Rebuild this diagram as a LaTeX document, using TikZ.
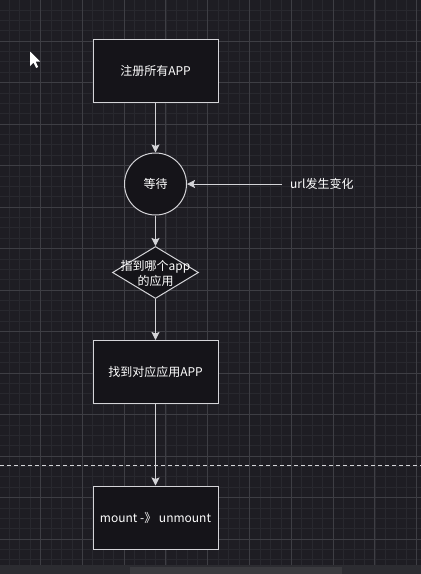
\documentclass[tikz,border=0pt]{standalone}
\usepackage{fontspec}
\setmainfont{Noto Sans CJK SC}
\usetikzlibrary{arrows.meta,positioning}
\usetikzlibrary{shapes.geometric}

\definecolor{canvasbg}{RGB}{30,29,35}
\definecolor{gridmajor}{RGB}{62,62,68}
\definecolor{gridminor}{RGB}{40,40,46}
\definecolor{boxfill}{RGB}{21,20,25}
\definecolor{edge}{RGB}{212,212,216}
\definecolor{barbg}{RGB}{44,44,49}
\definecolor{barthumb}{RGB}{58,58,62}

\begin{document}
\begin{tikzpicture}[
    x=1pt, y=-1pt,
    font=\fontsize{12}{15}\selectfont,
    >={Stealth[length=8pt, width=8pt, inset=1.5pt]},
    % styles
    block/.style={draw=edge, line width=1pt, rectangle, minimum width=125pt, minimum height=63pt, align=center, fill=boxfill, text=white},
    waitnode/.style={draw=edge, line width=1pt, circle, minimum size=62pt, fill=boxfill, text=white},
    choice/.style={draw=edge, line width=1pt, diamond, minimum width=86pt, minimum height=52pt, inner sep=0pt, fill=boxfill},
    line/.style={draw=edge, ->, line width=1pt},
    majorgrid/.style={gridmajor, line width=0.9pt},
    minorgrid/.style={gridminor, line width=0.6pt},
    divider/.style={edge, line width=1pt, dash pattern=on 4pt off 3pt}
]

    % --- 0. Canvas (背景與網格) ---
    \useasboundingbox (0,0) rectangle (421,574);
    \fill[canvasbg] (0,0) rectangle (421,574);
    \foreach \i in {0,...,41} \draw[minorgrid] ({-1.3+10.45*\i},0) -- ++(0,574);
    \foreach \i in {0,...,56} \draw[minorgrid] (0,{-0.5+10.375*\i}) -- ++(421,0);
    \foreach \i in {0,...,10} \draw[majorgrid] ({-1.3+41.8*\i},0) -- ++(0,574);
    \foreach \i in {0,...,13} \draw[majorgrid] (0,{-0.5+41.5*\i}) -- ++(421,0);

    % scroll bar
    \fill[barbg] (0,565) rectangle (421,574);
    \fill[barthumb] (130,567) rectangle (342,574);

    % mouse pointer
    \fill[white] (30,51.5) -- (30,66) -- (33.5,62.5) -- (36.2,68) -- (38.2,67) -- (35.6,61.6) -- (40.2,61.6) -- cycle;

    % --- 1. Nodes (節點) ---
    \node[block] (register) at (155.5,70.5) {注册所有APP};

    \node[waitnode, below=50pt of register] (wait) {等待};

    \node[right=95pt of wait, text=white, inner xsep=8pt] (urlchange) {url发生变化};

    % 文字放在菱形中間 (超出菱形)
    \node[choice, below=30.5pt of wait,
          label={[text=white, align=center, font=\fontsize{12}{15}\selectfont, yshift=-1pt]center:指到哪个app\\的应用}] (pick) {};

    \node[block, below=41pt of pick] (find) {找到对应应用APP};

    \node[block, below=81.5pt of find] (mount) {mount -》 unmount};

    % --- 2. Paths (路徑連線) ---
    \draw[line] (register.south) -- (wait.north);
    \draw[line] (urlchange.west) -- (wait.east);
    \draw[line] (wait.south) -- (pick.north);
    \draw[line] (pick.south) -- (find.north);

    % dashed divider
    \coordinate (cut_left) at (0,465.7);
    \coordinate (cut_right) at (421,465.7);
    \draw[divider] (cut_left) -- (cut_right);

    \draw[line] (find.south) -- (mount.north);

\end{tikzpicture}
\end{document}
